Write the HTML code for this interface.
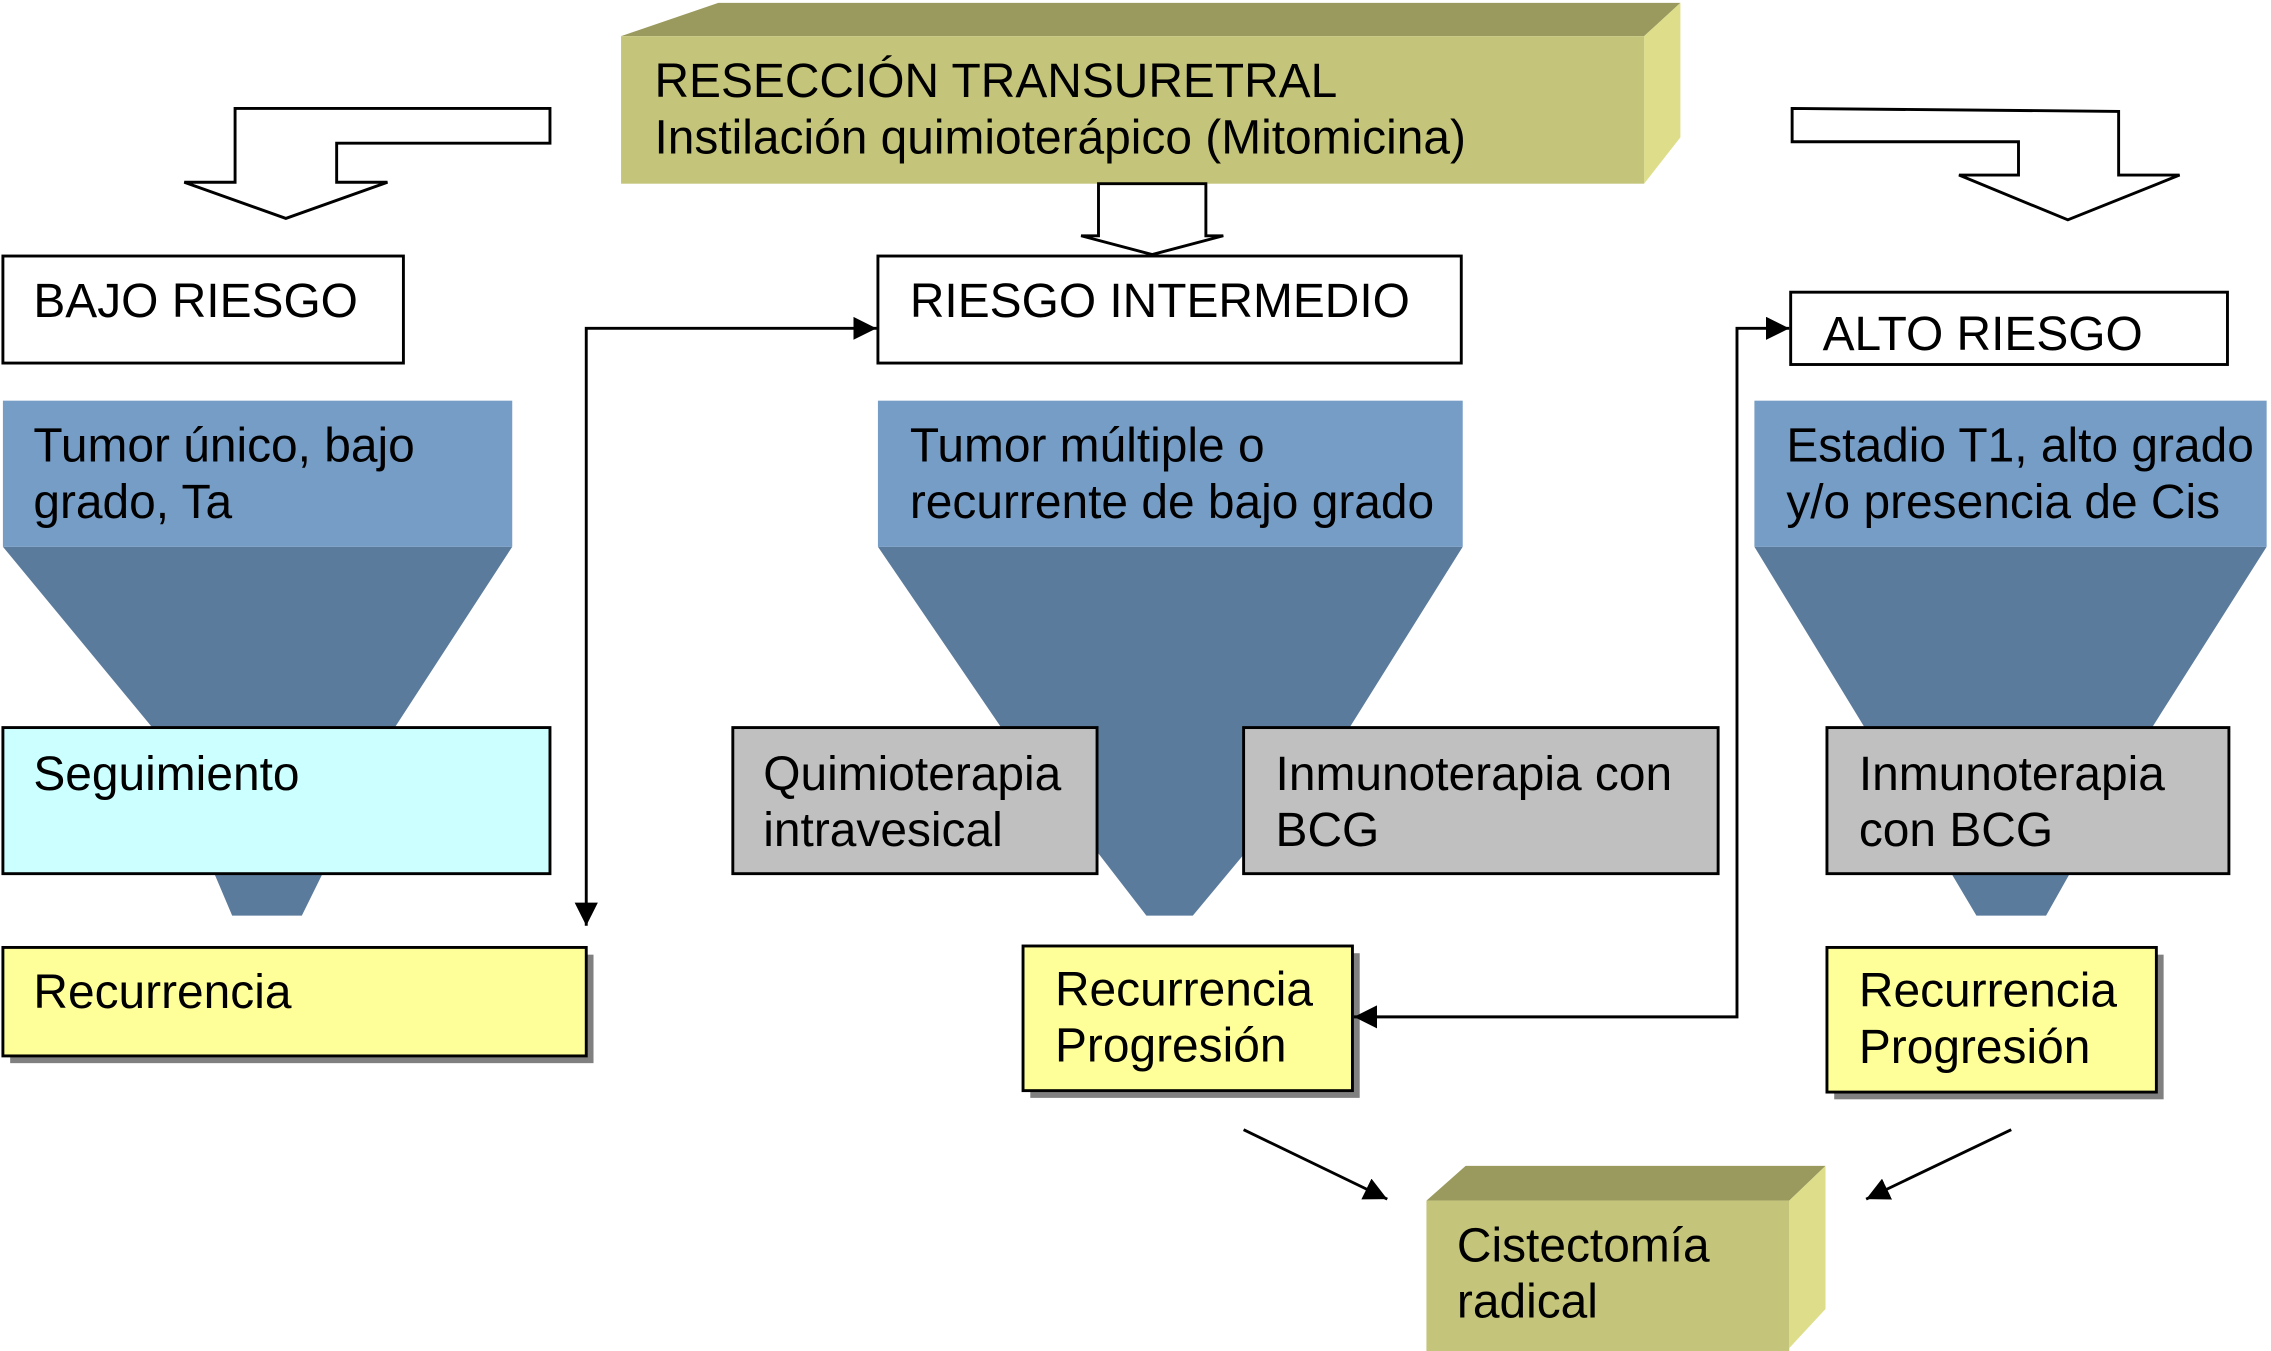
<!DOCTYPE html>
<html><head><meta charset="utf-8"><style>
html,body{margin:0;padding:0;background:#fff;}
svg{display:block;}
text{font-family:"Liberation Sans",Arial,sans-serif;font-size:33px;fill:#000;}
</style></head><body>
<svg width="2271" height="1351" viewBox="0 0 1565 934" preserveAspectRatio="none" xmlns="http://www.w3.org/2000/svg">
<defs>
<marker id="ah" viewBox="0 0 10 10" refX="10" refY="5" markerWidth="8" markerHeight="8" orient="auto-start-reverse" markerUnits="strokeWidth"><path d="M0,0 L10,5 L0,10 z" fill="#000"/></marker>
</defs>
<polygon points="428,25 495,2 1158,2 1133,25" fill="#9a9a5e"/>
<polygon points="1133,25 1158,2 1158,95 1133,127" fill="#dede8a"/>
<rect x="428" y="25" width="705" height="102" fill="#c4c47a"/>
<text x="451" y="67">RESECCIÓN TRANSURETRAL</text>
<text x="451" y="106">Instilación quimioterápico (Mitomicina)</text>

<polygon points="379,75 379,99 232,99 232,126 267,126 197,151 127,126 162,126 162,75" fill="#fff" stroke="#000" stroke-width="2"/>
<polygon points="757,127 757,163 745,163 794,176 843,163 831,163 831,127" fill="#fff" stroke="#000" stroke-width="2"/>
<polygon points="1235,75 1460,77 1460,121 1502,121 1425,152 1350,121 1391,121 1391,98 1235,98" fill="#fff" stroke="#000" stroke-width="2"/>

<rect x="2" y="177" width="276" height="74" fill="#fff" stroke="#000" stroke-width="2"/>
<text x="23" y="219">BAJO RIESGO</text>
<rect x="605" y="177" width="402" height="74" fill="#fff" stroke="#000" stroke-width="2"/>
<text x="627" y="219">RIESGO INTERMEDIO</text>
<rect x="1234" y="202" width="301" height="50" fill="#fff" stroke="#000" stroke-width="2"/>
<text x="1256" y="242">ALTO RIESGO</text>

<polygon points="2,378 353,378 272,503 208,633 160,633 105,503" fill="#5b7b9c"/>
<rect x="2" y="277" width="351" height="101" fill="#769dc6"/>
<text x="23" y="319">Tumor único, bajo</text>
<text x="23" y="358">grado, Ta</text>

<polygon points="605,378 1008,378 930,503 822,633 790,633 690,503" fill="#5b7b9c"/>
<rect x="605" y="277" width="403" height="101" fill="#769dc6"/>
<text x="627" y="319">Tumor múltiple o</text>
<text x="627" y="358">recurrente de bajo grado</text>

<polygon points="1209,378 1562,378 1483,503 1410,633 1362,633 1285,503" fill="#5b7b9c"/>
<rect x="1209" y="277" width="353" height="101" fill="#769dc6"/>
<text x="1231" y="319">Estadio T1, alto grado</text>
<text x="1231" y="358">y/o presencia de Cis</text>

<rect x="2" y="503" width="377" height="101" fill="#ccffff" stroke="#000" stroke-width="2"/>
<text x="23" y="546">Seguimiento</text>
<rect x="505" y="503" width="251" height="101" fill="#c0c0c0" stroke="#000" stroke-width="2"/>
<text x="526" y="546">Quimioterapia</text>
<text x="526" y="585">intravesical</text>
<rect x="857" y="503" width="327" height="101" fill="#c0c0c0" stroke="#000" stroke-width="2"/>
<text x="879" y="546">Inmunoterapia con</text>
<text x="879" y="585">BCG</text>
<rect x="1259" y="503" width="277" height="101" fill="#c0c0c0" stroke="#000" stroke-width="2"/>
<text x="1281" y="546">Inmunoterapia</text>
<text x="1281" y="585">con BCG</text>

<rect x="7" y="660" width="402" height="75" fill="#808080"/>
<rect x="2" y="655" width="402" height="75" fill="#ffff99" stroke="#000" stroke-width="2"/>
<text x="23" y="697">Recurrencia</text>
<rect x="710" y="659" width="227" height="100" fill="#808080"/>
<rect x="705" y="654" width="227" height="100" fill="#ffff99" stroke="#000" stroke-width="2"/>
<text x="727" y="695">Recurrencia</text>
<text x="727" y="734">Progresión</text>
<rect x="1264" y="660" width="227" height="100" fill="#808080"/>
<rect x="1259" y="655" width="227" height="100" fill="#ffff99" stroke="#000" stroke-width="2"/>
<text x="1281" y="696">Recurrencia</text>
<text x="1281" y="735">Progresión</text>

<polygon points="983,830 1010,806 1258,806 1233,830" fill="#9a9a5e"/>
<polygon points="1233,830 1258,806 1258,905 1233,932" fill="#dede8a"/>
<rect x="983" y="830" width="250" height="104" fill="#c4c47a"/>
<text x="1004" y="872">Cistectomía</text>
<text x="1004" y="911">radical</text>

<polyline points="404,640 404,227 604,227" fill="none" stroke="#000" stroke-width="2" marker-start="url(#ah)" marker-end="url(#ah)"/>
<polyline points="1233,227 1197,227 1197,703 933,703" fill="none" stroke="#000" stroke-width="2" marker-start="url(#ah)" marker-end="url(#ah)"/>
<line x1="857" y1="781" x2="956" y2="829" stroke="#000" stroke-width="2" marker-end="url(#ah)"/>
<line x1="1386" y1="781" x2="1286" y2="829" stroke="#000" stroke-width="2" marker-end="url(#ah)"/>
</svg>
</body></html>
